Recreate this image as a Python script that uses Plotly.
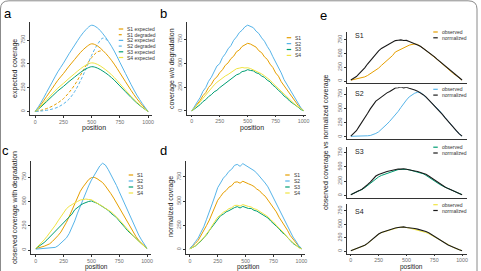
import plotly.graph_objects as go

W, H = 481, 271

# ---------------- data ----------------
pos50 = list(range(0, 1001, 50))
pos25 = list(range(0, 1001, 25))
samples = ["S1", "S2", "S3", "S4"]
colors = ["#E69F00", "#56B4E9", "#009E73", "#F0E442"]

# panel a: expected / degraded coverage (x = pos50)
a_s1_expected = [0, 71, 156, 241, 327, 398, 476, 547, 618, 675, 710, 689, 639, 575, 497, 405, 312, 220, 135, 64, 0]
a_s2_expected = [0, 91, 199, 308, 416, 507, 606, 697, 787, 860, 905, 878, 815, 733, 634, 516, 398, 281, 172, 81, 0]
a_s3_expected = [0, 47, 103, 160, 216, 263, 315, 362, 409, 447, 470, 456, 423, 381, 329, 268, 207, 146, 89, 42, 0]
a_s4_expected = [0, 55, 120, 185, 245, 295, 348, 398, 447, 487, 510, 495, 459, 413, 357, 291, 224, 158, 97, 46, 0]
a_s1_degraded = [0, 12, 30, 55, 90, 135, 200, 280, 380, 480, 565, 625, 639]
a_s2_degraded = [0, 5, 12, 25, 45, 80, 130, 210, 320, 450, 590, 700, 770, 733]

# panel b: coverage w/o degradation (x = pos25)
b_s1 = [0, 33, 74, 110, 160, 192, 246, 278, 330, 356, 400, 432, 478, 503, 548, 573, 620, 638, 675, 688, 708, 700, 680, 668, 630, 610, 566, 540, 490, 455, 398, 364, 306, 265, 215, 180, 130, 102, 60, 30, 4]
b_s2 = [0, 42, 95, 140, 205, 245, 310, 352, 420, 470, 495, 560, 598, 650, 684, 740, 775, 820, 845, 880, 898, 885, 872, 835, 810, 765, 730, 676, 630, 568, 515, 450, 398, 328, 280, 220, 172, 122, 84, 34, 5]
b_s3 = [0, 20, 45, 66, 98, 118, 150, 170, 200, 216, 244, 265, 292, 308, 335, 350, 378, 389, 412, 418, 432, 424, 420, 400, 390, 366, 352, 322, 305, 270, 248, 215, 192, 156, 136, 104, 85, 58, 41, 15, 3]
b_s4 = [0, 30, 62, 95, 132, 168, 205, 238, 272, 300, 325, 345, 366, 382, 402, 420, 442, 448, 455, 450, 452, 444, 432, 418, 402, 388, 368, 346, 322, 290, 262, 232, 200, 170, 142, 115, 90, 66, 44, 20, 4]

# panel c: observed coverage with degradation (x = pos25)
c_s1 = [15, 22, 30, 40, 52, 65, 90, 115, 150, 185, 230, 285, 345, 410, 490, 545, 605, 650, 690, 725, 745, 748, 735, 712, 695, 660, 625, 580, 535, 485, 435, 385, 335, 285, 235, 185, 140, 100, 70, 40, 18]
c_s2 = [10, 12, 14, 15, 18, 20, 22, 28, 45, 70, 90, 125, 170, 230, 300, 380, 455, 530, 600, 660, 720, 770, 820, 865, 893, 875, 830, 780, 725, 665, 600, 535, 465, 400, 335, 270, 210, 155, 105, 60, 18]
c_s3 = [18, 35, 55, 78, 105, 135, 170, 200, 230, 258, 285, 310, 340, 370, 415, 440, 460, 478, 490, 500, 505, 495, 482, 465, 445, 425, 410, 380, 360, 335, 300, 262, 235, 200, 172, 145, 115, 88, 65, 40, 18]
c_s4 = [18, 45, 75, 105, 140, 175, 215, 255, 300, 345, 390, 425, 450, 470, 485, 500, 515, 520, 525, 520, 518, 500, 485, 468, 450, 430, 415, 395, 370, 345, 312, 280, 245, 210, 180, 148, 118, 90, 65, 40, 18]

# panel d: normalized coverage (x = pos25)
d_s1 = [12, 36, 65, 96, 145, 188, 250, 306, 378, 440, 510, 548, 588, 610, 645, 660, 695, 700, 686, 706, 690, 680, 668, 652, 625, 608, 575, 552, 512, 475, 428, 390, 335, 292, 244, 200, 146, 108, 68, 36, 12]
d_s2 = [15, 42, 82, 120, 180, 236, 314, 385, 472, 555, 640, 688, 738, 768, 808, 830, 870, 880, 860, 888, 870, 852, 840, 816, 790, 758, 728, 688, 648, 590, 542, 484, 428, 360, 312, 245, 188, 130, 90, 42, 15]
d_s3 = [8, 24, 38, 64, 88, 122, 154, 198, 234, 282, 318, 350, 366, 390, 402, 420, 434, 444, 430, 446, 438, 425, 425, 406, 398, 380, 366, 344, 327, 295, 273, 242, 216, 180, 158, 122, 95, 64, 46, 20, 8]
d_s4 = [9, 25, 40, 67, 95, 123, 165, 200, 248, 290, 336, 358, 386, 400, 423, 432, 456, 458, 450, 465, 452, 446, 440, 422, 414, 395, 380, 358, 340, 308, 285, 252, 224, 186, 164, 126, 99, 67, 47, 21, 9]

# panel e: observed vs normalized per sample (x = pos25)
e_s1_observed = [15, 25, 35, 45, 58, 75, 100, 130, 165, 200, 235, 285, 330, 375, 420, 465, 530, 555, 585, 615, 640, 655, 668, 675, 668, 640, 598, 560, 522, 482, 440, 396, 352, 306, 260, 216, 172, 130, 96, 52, 16]
e_s1_normalized = [18, 48, 82, 135, 185, 240, 310, 375, 440, 505, 550, 595, 625, 655, 682, 705, 738, 745, 752, 740, 742, 722, 705, 685, 660, 635, 600, 565, 525, 487, 445, 400, 358, 312, 265, 220, 178, 135, 100, 55, 18]
e_s2_observed = [12, 12, 13, 14, 16, 18, 21, 26, 38, 62, 90, 130, 170, 225, 275, 330, 385, 445, 515, 585, 645, 700, 740, 765, 780, 780, 738, 700, 650, 600, 555, 505, 455, 390, 330, 270, 215, 160, 105, 55, 15]
e_s2_normalized = [15, 55, 110, 185, 255, 330, 410, 490, 560, 625, 660, 700, 730, 770, 795, 820, 855, 860, 872, 858, 868, 850, 838, 820, 800, 775, 738, 700, 650, 600, 555, 505, 455, 390, 330, 270, 215, 160, 105, 55, 15]
e_s3_observed = [15, 35, 58, 82, 105, 135, 175, 215, 260, 300, 325, 350, 368, 388, 402, 420, 440, 452, 455, 462, 456, 448, 436, 422, 410, 396, 380, 352, 318, 284, 252, 222, 192, 166, 142, 118, 96, 74, 54, 34, 15]
e_s3_normalized = [15, 35, 60, 85, 110, 145, 190, 235, 290, 340, 368, 390, 402, 418, 428, 440, 456, 462, 460, 466, 458, 452, 440, 428, 418, 405, 392, 370, 340, 305, 270, 235, 200, 170, 145, 120, 98, 76, 55, 35, 15]
e_s4_observed = [10, 28, 48, 68, 86, 108, 142, 186, 236, 286, 318, 346, 364, 376, 390, 408, 430, 440, 446, 450, 440, 432, 420, 410, 396, 382, 368, 348, 326, 296, 266, 234, 200, 170, 140, 110, 86, 66, 46, 26, 10]
e_s4_normalized = [10, 28, 50, 70, 88, 110, 145, 190, 240, 290, 320, 348, 366, 378, 392, 410, 432, 440, 446, 452, 442, 438, 430, 422, 410, 398, 384, 365, 342, 312, 282, 250, 212, 180, 148, 115, 90, 68, 48, 28, 10]

y_ticks = [0, 250, 500, 750]
x_ticks = [0, 250, 500, 750, 1000]

# ---------------- helpers ----------------
FONT = "Liberation Sans, Arial, sans-serif"
TICK_FONT = dict(family=FONT, size=5.3, color="#6f6f6f")


def fx(p):
    return p / W


def fy(p):
    return 1 - p / H


fig = go.Figure()
layout = {}


def add_axes(idx, xdom, ydom, xrng, yrng, show_x=True, ticks_x=True):
    sx = "" if idx == 1 else str(idx)
    layout["xaxis" + sx] = dict(
        domain=[fx(xdom[0]), fx(xdom[1])], range=xrng, anchor="y" + sx,
        showline=True, linecolor="#333333", linewidth=1, showgrid=False, zeroline=False,
        ticks="outside" if ticks_x else "", ticklen=1.5, tickcolor="#333333", tickwidth=0.8,
        tickvals=x_ticks if ticks_x else [], showticklabels=show_x, tickfont=TICK_FONT,
    )
    layout["yaxis" + sx] = dict(
        domain=[fy(ydom[1]), fy(ydom[0])], range=yrng, anchor="x" + sx,
        showline=True, linecolor="#333333", linewidth=1, showgrid=False, zeroline=False,
        ticks="outside", ticklen=1.5, tickcolor="#333333", tickwidth=0.8,
        tickvals=y_ticks, tickangle=-90, tickfont=TICK_FONT,
    )


def line(idx, x, y, color, width=1.0, dash="solid", shape="linear"):
    sx = "" if idx == 1 else str(idx)
    fig.add_trace(go.Scatter(x=x, y=y, mode="lines", xaxis="x" + sx, yaxis="y" + sx,
                             line=dict(color=color, width=width, dash=dash, shape=shape),
                             showlegend=False, hoverinfo="skip"))


# axes (pixel geometry of each panel)
add_axes(1, (30, 153), (22, 115), [-48, 1035], [-37, 939])
add_axes(2, (188, 308), (22, 114.5), [-44, 1022], [-37, 931])
add_axes(3, (31, 152), (161, 254), [-45, 1036], [-40, 916])
add_axes(4, (187, 307), (161, 254), [-36, 1033], [-45, 915])
add_axes(5, (349, 470), (31.7, 83.3), [-36, 1045], [-42, 901], show_x=False, ticks_x=False)
add_axes(6, (349, 470), (87.3, 139), [-36, 1045], [-35, 867], show_x=False, ticks_x=False)
add_axes(7, (349, 470), (146.5, 197.5), [-36, 1045], [-35, 855], show_x=False, ticks_x=False)
add_axes(8, (349, 470), (204, 253.5), [-36, 1045], [-42, 877])

# panel a
line(1, pos50[:len(a_s1_degraded)], a_s1_degraded, colors[0], dash="3px,2px", shape="spline")
line(1, pos50[:len(a_s2_degraded)], a_s2_degraded, colors[1], dash="3px,2px", shape="spline")
for vals, c in zip([a_s1_expected, a_s2_expected, a_s3_expected, a_s4_expected], colors):
    line(1, pos50, vals, c, shape="spline")

# panels b, c, d
for idx, series in [(2, [b_s1, b_s2, b_s3, b_s4]), (3, [c_s1, c_s2, c_s3, c_s4]), (4, [d_s1, d_s2, d_s3, d_s4])]:
    for vals, c in zip(series, colors):
        line(idx, pos25, vals, c)

# panel e
e_obs = [e_s1_observed, e_s2_observed, e_s3_observed, e_s4_observed]
e_norm = [e_s1_normalized, e_s2_normalized, e_s3_normalized, e_s4_normalized]
for k in range(4):
    line(5 + k, pos25, e_obs[k], colors[k])
    line(5 + k, pos25, e_norm[k], "#1a1a1a", width=1.1)

# ---------------- annotations & manual legends ----------------
ann = []
shapes = []


def text(px, py, s, size=7, color="#1a1a1a", angle=0, xanchor="center"):
    ann.append(dict(x=fx(px), y=fy(py), xref="paper", yref="paper", text=s, showarrow=False,
                    textangle=angle, xanchor=xanchor, yanchor="middle",
                    font=dict(family=FONT, size=size, color=color)))


def legend(x0, y0, dy, items, size=5):
    for i, (lab, c, dash) in enumerate(items):
        py = y0 + i * dy
        shapes.append(dict(type="line", xref="paper", yref="paper", x0=fx(x0), x1=fx(x0 + 4.5),
                           y0=fy(py), y1=fy(py), line=dict(color=c, width=1.2, dash=dash)))
        text(x0 + 6.5, py, lab, size=size, color="#333333", xanchor="left")


# panel letters
for lab, px, py in [("a", 8, 14), ("b", 165, 14), ("c", 6, 150), ("d", 165, 150), ("e", 326, 15)]:
    text(px, py, lab, size=13, color="#000000")

# axis titles
text(95, 128, "position")
text(254, 128, "position")
text(97, 266.8, "position", size=6.5)
text(250, 266.8, "position", size=6.5)
text(414, 266.8, "position", size=6.5)
text(15, 68, "expected coverage", angle=-90)
text(173, 68, "coverage w/o degradation", angle=-90)
text(15, 207, "observed coverage with degradation", angle=-90)
text(172, 206, "normalized covrage", angle=-90)
text(328, 142, "observed coverage vs normalized coverage", angle=-90)

# legends
legend(119.5, 29, 5.7, [("S1 expected", colors[0], "solid"), ("S1 degraded", colors[0], "dot"),
                        ("S2 expected", colors[1], "solid"), ("S2 degraded", colors[1], "dot"),
                        ("S3 expected", colors[2], "solid"), ("S4 expected", colors[3], "solid")])
legend(288.5, 37.7, 5.9, [(s, c, "solid") for s, c in zip(samples, colors)])
legend(129.5, 175, 6, [(s, c, "solid") for s, c in zip(samples, colors)])
legend(287, 175, 6, [(s, c, "solid") for s, c in zip(samples, colors)])
for k, (ytop, ylab) in enumerate([(32, 35), (89.3, 93.3), (147.2, 151.8), (204.7, 211.3)]):
    legend(436, ytop, 5.8, [("observed", colors[k], "solid"), ("normalized", "#1a1a1a", "solid")])
    text(362, ylab, samples[k], size=7, color="#1a1a1a")

# rounded frame of the figure
p = lambda x, y: f"{fx(x)},{fy(y)}"
shapes.append(dict(type="path", xref="paper", yref="paper",
                   path=f"M {p(0.5, 272)} L {p(0.5, 9)} Q {p(0.5, 0.8)} {p(9, 0.8)} L {p(471, 0.8)} Q {p(480, 0.8)} {p(480, 9)} L {p(480, 272)}",
                   line=dict(color="#8a8a8a", width=1)))

fig.update_layout(
    width=W, height=H, autosize=False,
    margin=dict(l=0, r=0, t=0, b=0),
    paper_bgcolor="white", plot_bgcolor="white",
    annotations=ann, shapes=shapes, showlegend=False,
    font=dict(family=FONT),
    **layout,
)

fig.write_html("out.html")
